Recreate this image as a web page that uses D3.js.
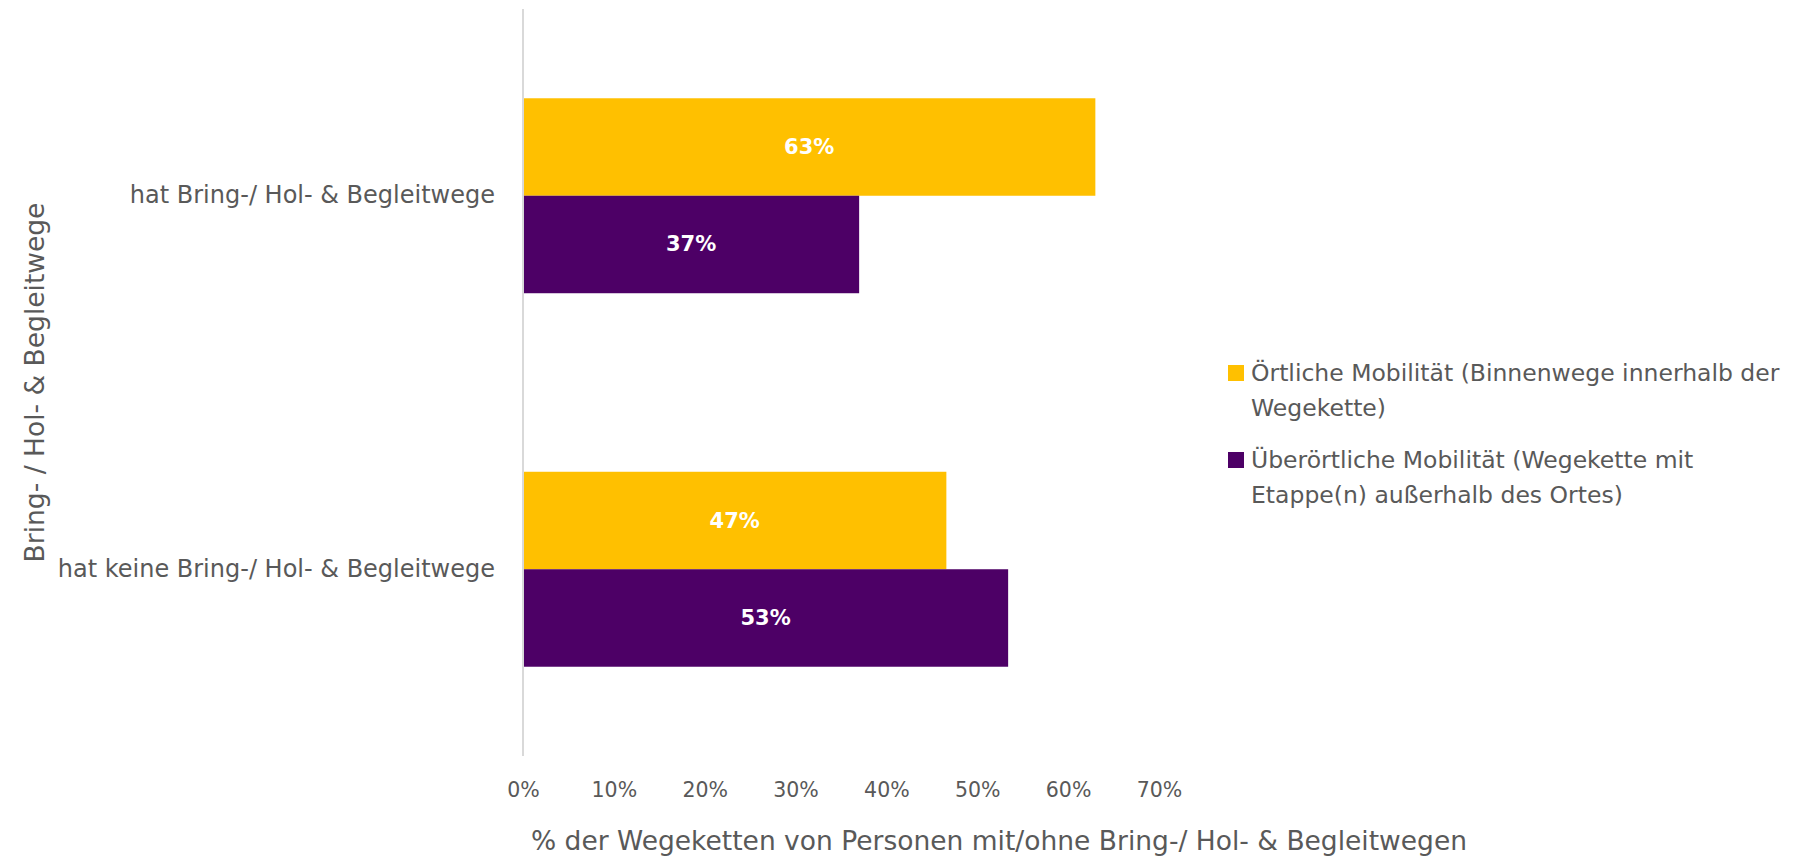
<!DOCTYPE html>
<html><head><meta charset="utf-8">
<script src="https://cdn.jsdelivr.net/npm/d3@7"></script>
<style>
html,body{margin:0;padding:0;background:#fff;}
svg{display:block;font-family:"DejaVu Sans",sans-serif;}
</style></head>
<body><svg id="chart" width="1796" height="857"></svg>
<script>
const categories = ["hat Bring-/ Hol- & Begleitwege", "hat keine Bring-/ Hol- & Begleitwege"];
const seriesNames = ["Örtliche Mobilität (Binnenwege innerhalb der Wegekette)", "Überörtliche Mobilität (Wegekette mit Etappe(n) außerhalb des Ortes)"];
const legendLines = [["Örtliche Mobilität (Binnenwege innerhalb der", "Wegekette)"], ["Überörtliche Mobilität (Wegekette mit", "Etappe(n) außerhalb des Ortes)"]];
const oertlich = [0.63, 0.466];
const ueberoertlich = [0.37, 0.534];
const xTicks = [0, 0.1, 0.2, 0.3, 0.4, 0.5, 0.6, 0.7];
const xTitle = "% der Wegeketten von Personen mit/ohne Bring-/ Hol- & Begleitwegen";
const yTitle = "Bring- / Hol- & Begleitwege";
const colors = ["#FFC000", "#4D0066"];

const svg = d3.select("#chart");
const plotLeft = 523, plotTop = 9, plotBottom = 756;
const x = d3.scaleLinear().domain([0, 0.7]).range([plotLeft, plotLeft + 7 * 90.85]);
const y = d3.scaleBand().domain(categories).range([plotTop, plotBottom]).paddingInner(0.478).paddingOuter(0.239);
const sub = d3.scaleBand().domain([0, 1]).range([0, y.bandwidth()]);
const textColor = "#595959";

const rows = categories.map((c, i) => ({cat: c, vals: [oertlich[i], ueberoertlich[i]]}));

// bars
const g = svg.append("g");
rows.forEach(r => {
  r.vals.forEach((v, s) => {
    g.append("rect")
      .attr("x", x(0)).attr("y", y(r.cat) + sub(s))
      .attr("width", x(v) - x(0)).attr("height", sub.bandwidth())
      .attr("fill", colors[s]);
    g.append("text")
      .attr("x", (x(0) + x(v)) / 2).attr("y", y(r.cat) + sub(s) + sub.bandwidth() / 2)
      .attr("text-anchor", "middle").attr("dominant-baseline", "central")
      .attr("fill", "#fff").attr("font-weight", "bold")
      .attr("font-family", "'DejaVu Sans', sans-serif").attr("font-size", 21)
      .text(d3.format(".0%")(v));
  });
});

// y axis
const yAxis = svg.append("g").attr("transform", `translate(${plotLeft},0)`)
  .call(d3.axisLeft(y).tickSize(0).tickPadding(28));
yAxis.select(".domain").attr("stroke", "#d9d9d9").attr("stroke-width", 2)
  .attr("d", `M0,${plotTop}V${plotBottom}`);
yAxis.selectAll("text").attr("font-size", 24).attr("fill", textColor)
  .attr("font-family", "'DejaVu Sans',sans-serif");

// x axis
const xAxis = svg.append("g").attr("transform", `translate(0,${plotBottom + 26})`)
  .call(d3.axisBottom(x).tickValues(xTicks).tickSize(0).tickPadding(0).tickFormat(d3.format(".0%")));
xAxis.select(".domain").remove();
xAxis.selectAll("text").attr("font-size", 20.5).attr("fill", textColor)
  .attr("font-family", "'DejaVu Sans',sans-serif");

// axis titles
svg.append("text").attr("x", 999).attr("y", 840)
  .attr("text-anchor", "middle").attr("dominant-baseline", "central")
  .attr("font-size", 26.5).attr("fill", textColor).text(xTitle);
svg.append("text").attr("transform", `translate(34,${(plotTop + plotBottom) / 2}) rotate(-90)`)
  .attr("text-anchor", "middle").attr("dominant-baseline", "central")
  .attr("font-size", 26.5).attr("fill", textColor).text(yTitle);

// legend
const legY = [373, 460];
legendLines.forEach((lines, i) => {
  svg.append("rect").attr("x", 1228).attr("y", legY[i] - 8).attr("width", 16).attr("height", 16)
    .attr("fill", colors[i]);
  lines.forEach((ln, j) => {
    svg.append("text").attr("x", 1251).attr("y", legY[i] + j * 35)
      .attr("dominant-baseline", "central").attr("font-size", 23.5).attr("fill", textColor)
      .text(ln);
  });
});
</script></body></html>
